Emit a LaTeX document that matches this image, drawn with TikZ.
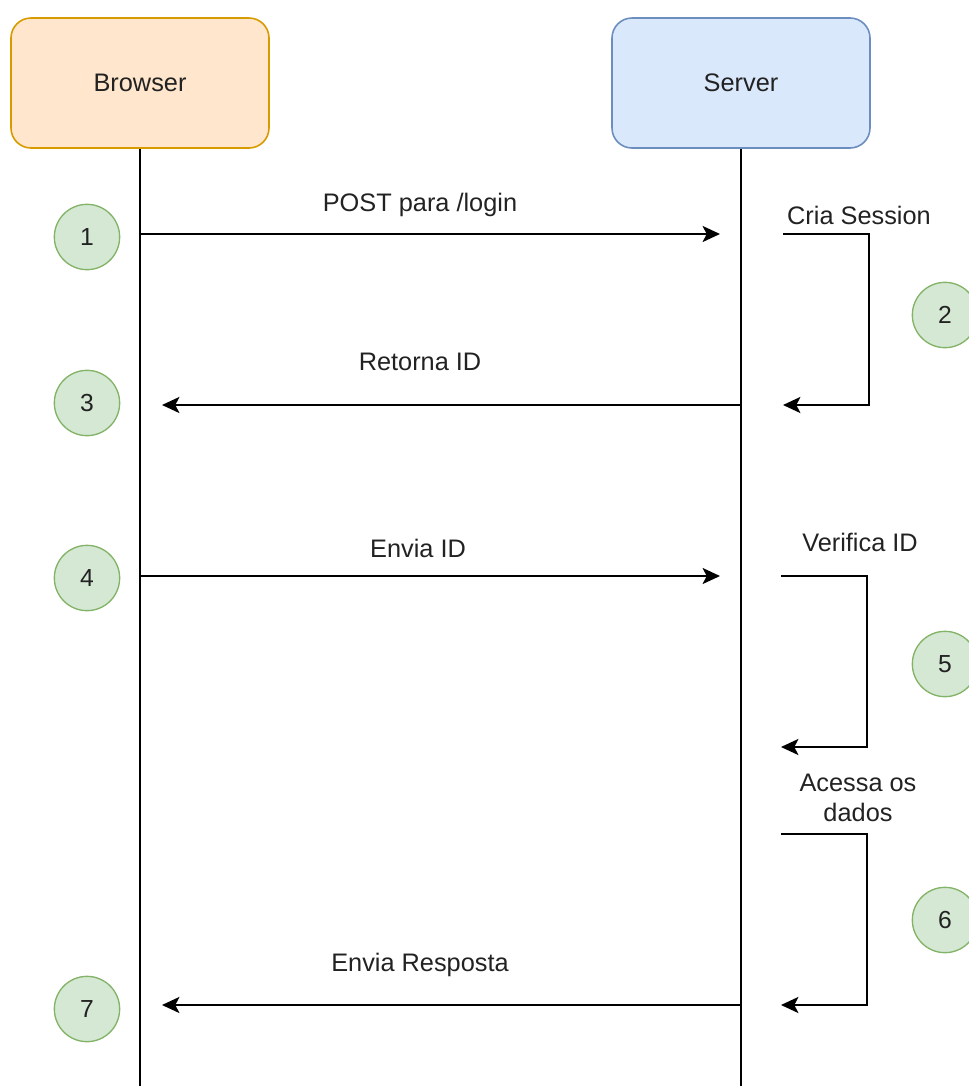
\documentclass[tikz,border=0pt]{standalone}
\usepackage{fontspec}
\setmainfont{Liberation Sans}
\usetikzlibrary{arrows.meta}
\definecolor{brfill}{HTML}{FFE6CC}
\definecolor{brdraw}{HTML}{D79B00}
\definecolor{svfill}{HTML}{DAE8FC}
\definecolor{svdraw}{HTML}{6C8EBF}
\definecolor{stfill}{HTML}{D5E8D4}
\definecolor{stdraw}{HTML}{82B366}
\definecolor{txt}{HTML}{222222}
\tikzset{
  actor/.style={rounded corners=15pt, line width=1.2pt, minimum width=193.5pt, minimum height=97.5pt, inner sep=0pt, font=\fontsize{19}{22.5}\selectfont, text=txt},
  stepnum/.style={circle, fill=stfill, draw=stdraw, line width=1pt, minimum size=49pt, inner sep=0pt, font=\fontsize{18.5}{22}\selectfont, text=txt},
  lbl/.style={font=\fontsize{19}{22.5}\selectfont, text=txt, inner sep=0pt, align=center},
  life/.style={line width=1.5pt, black},
  msg/.style={line width=1.5pt, black, -{Stealth[length=13pt, width=12pt, inset=3pt]}},
}
\begin{document}
\begin{tikzpicture}[x=0.75pt, y=-0.75pt]
\useasboundingbox (0,0) rectangle (969,1086);
\clip (0,0) rectangle (969,1086);
% actors
\node[actor, fill=brfill, draw=brdraw] (browser) at (140,83) {Browser};
\node[actor, fill=svfill, draw=svdraw] (server) at (741,83) {Server};
\coordinate (bend) at (140,1086);
\coordinate (send) at (741,1086);
\draw[life] (browser.south) -- (bend);
\draw[life] (server.south) -- (send);
% message 1
\coordinate (b1) at (140,234);
\coordinate (s1) at (720,234);
\draw[msg] (b1) -- (s1);
\node[lbl] (l1) at (420,205) {POST para /login};
% loop 1
\coordinate (a1) at (783,234);
\coordinate (a1e) at (783,405);
\draw[msg] (a1) -- (869,234) -- (869,405) -- (a1e);
\node[lbl] (l2) at (859,215) {Cria Session};
% message 3
\coordinate (s3) at (741,405);
\coordinate (b3) at (162,405);
\draw[msg] (s3) -- (b3);
\node[lbl] (l3) at (420,362) {Retorna ID};
% message 4
\coordinate (b4) at (140,576);
\coordinate (s4) at (720,576);
\draw[msg] (b4) -- (s4);
\node[lbl] (l4) at (418,548) {Envia ID};
% loop 2
\coordinate (a2) at (781,576);
\coordinate (a2e) at (781,747);
\draw[msg] (a2) -- (867,576) -- (867,747) -- (a2e);
\node[lbl] (l5) at (860,542) {Verifica ID};
% loop 3
\coordinate (a3) at (781,834);
\coordinate (a3e) at (781,1005);
\draw[msg] (a3) -- (867,834) -- (867,1005) -- (a3e);
\node[lbl] (l6) at (858,798) {Acessa os\\dados};
% message 7
\coordinate (s7) at (741,1005);
\coordinate (b7) at (162,1005);
\draw[msg] (s7) -- (b7);
\node[lbl] (l7) at (420,965) {Envia Resposta};
% step circles
\node[stepnum] (c1) at (87,237) {1};
\node[stepnum] (c2) at (945,315) {2};
\node[stepnum] (c3) at (87,403) {3};
\node[stepnum] (c4) at (87,578) {4};
\node[stepnum] (c5) at (945,664) {5};
\node[stepnum] (c6) at (945,920) {6};
\node[stepnum] (c7) at (87,1009) {7};
\end{tikzpicture}
\end{document}
